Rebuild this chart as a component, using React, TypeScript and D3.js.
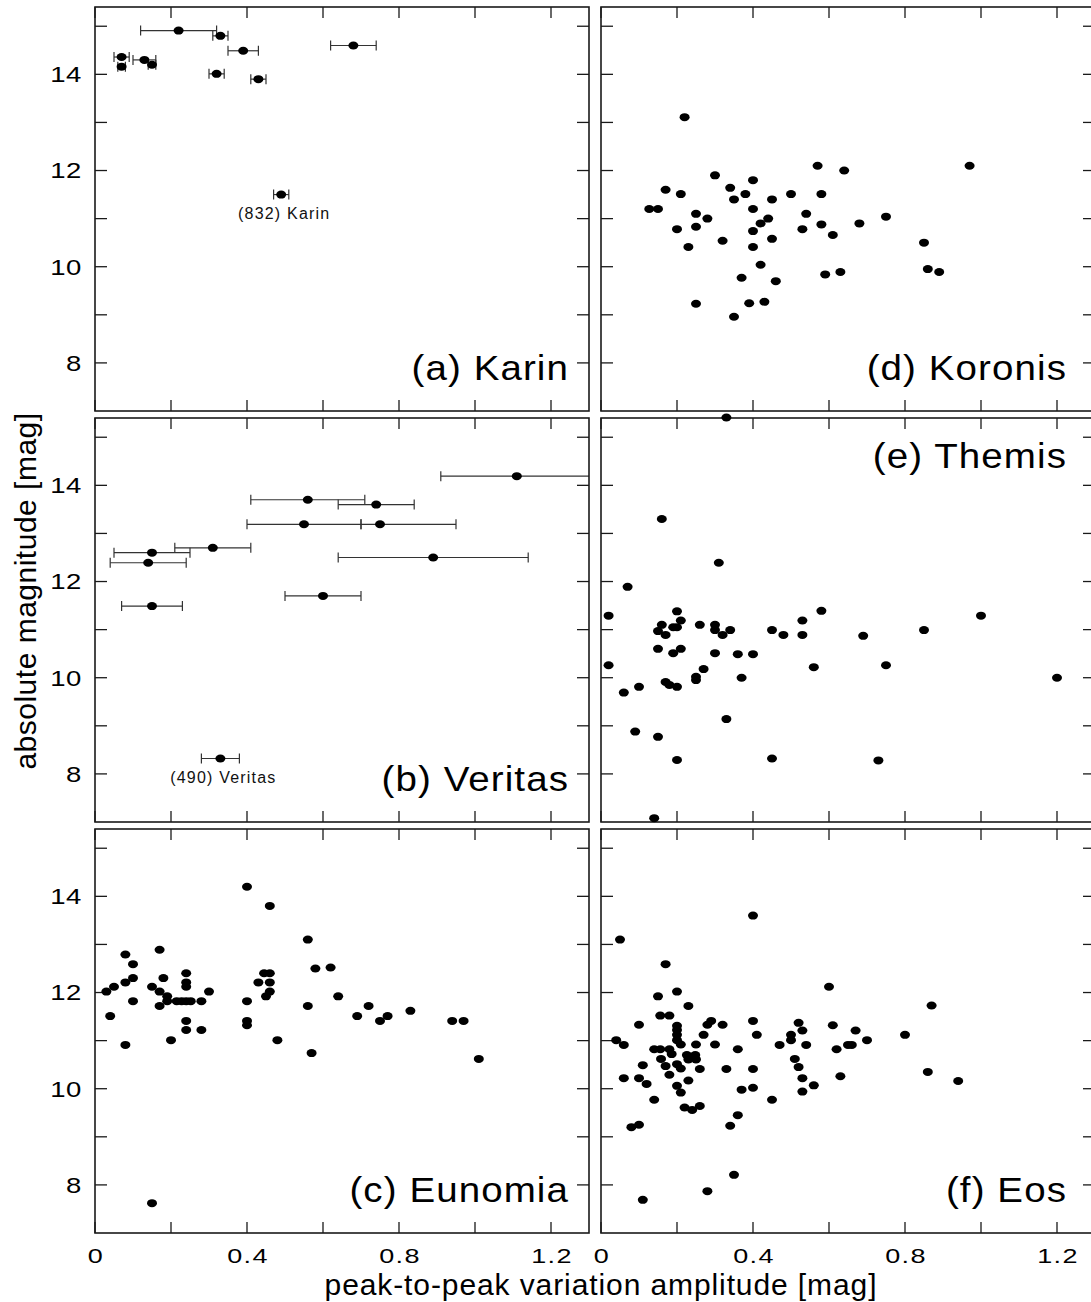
import React from "react";
import * as d3 from "d3";

const width = 1091;
const height = 1302;

// panel geometry
const PW = 494;
const PH = 404;
const colLeft = [95, 601];
const rowTop = [7, 418, 829];

const xTicks = [0, 0.2, 0.4, 0.6, 0.8, 1.0, 1.2];
const xLabels = [0, 0.4, 0.8, 1.2];
const yTicks = [8, 9, 10, 11, 12, 13, 14, 15];
const yLabels = [8, 10, 12, 14];

// [amplitude, H, err lo, err hi]
const karin = [
  [0.22, 14.91, 0.12, 0.32],
  [0.33, 14.8, 0.31, 0.35],
  [0.39, 14.49, 0.35, 0.43],
  [0.68, 14.6, 0.62, 0.74],
  [0.07, 14.36, 0.05, 0.09],
  [0.07, 14.16, 0.06, 0.08],
  [0.13, 14.3, 0.1, 0.16],
  [0.15, 14.2, 0.14, 0.16],
  [0.32, 14.01, 0.3, 0.34],
  [0.43, 13.9, 0.41, 0.45],
  [0.49, 11.5, 0.47, 0.51],
];

const veritas = [
  [1.11, 14.19, 0.91, 1.32],
  [0.56, 13.7, 0.41, 0.71],
  [0.74, 13.6, 0.64, 0.84],
  [0.55, 13.19, 0.4, 0.7],
  [0.75, 13.19, 0.7, 0.95],
  [0.31, 12.7, 0.21, 0.41],
  [0.15, 12.6, 0.05, 0.25],
  [0.14, 12.39, 0.04, 0.24],
  [0.89, 12.5, 0.64, 1.14],
  [0.6, 11.7, 0.5, 0.7],
  [0.15, 11.49, 0.07, 0.23],
  [0.33, 8.32, 0.28, 0.38],
];

const eunomia = [
  [0.4, 14.2], [0.46, 13.8], [0.56, 13.1], [0.17, 12.89], [0.08, 12.79], [0.1, 12.59],
  [0.58, 12.5], [0.62, 12.52], [0.24, 12.4], [0.445, 12.4], [0.46, 12.4], [0.1, 12.3],
  [0.18, 12.3], [0.08, 12.21], [0.24, 12.21], [0.24, 12.12], [0.43, 12.21], [0.46, 12.21],
  [0.05, 12.12], [0.15, 12.12], [0.45, 11.92], [0.46, 12.02], [0.03, 12.02], [0.17, 12.02],
  [0.19, 11.92], [0.3, 12.02], [0.1, 11.82], [0.19, 11.82], [0.215, 11.82], [0.228, 11.82],
  [0.24, 11.82], [0.252, 11.82], [0.28, 11.82], [0.4, 11.82], [0.17, 11.72], [0.56, 11.72],
  [0.64, 11.92], [0.72, 11.72], [0.04, 11.51], [0.69, 11.51], [0.77, 11.51], [0.75, 11.41],
  [0.83, 11.62], [0.94, 11.41], [0.97, 11.41], [0.24, 11.41], [0.4, 11.41], [0.4, 11.32],
  [0.24, 11.22], [0.28, 11.22], [0.2, 11.01], [0.48, 11.01], [0.08, 10.91], [0.57, 10.74],
  [1.01, 10.62], [0.15, 7.62],
];

const koronis = [
  [0.22, 13.11], [0.57, 12.1], [0.97, 12.1], [0.64, 12.0], [0.3, 11.9], [0.4, 11.8],
  [0.17, 11.6], [0.34, 11.64], [0.21, 11.51], [0.38, 11.51], [0.5, 11.51], [0.58, 11.51],
  [0.35, 11.4], [0.45, 11.4], [0.127, 11.2], [0.15, 11.2], [0.4, 11.2], [0.25, 11.1],
  [0.54, 11.1], [0.28, 11.0], [0.44, 11.0], [0.75, 11.04], [0.42, 10.9], [0.58, 10.88],
  [0.68, 10.9], [0.2, 10.78], [0.25, 10.83], [0.4, 10.74], [0.53, 10.78], [0.61, 10.66],
  [0.32, 10.54], [0.45, 10.58], [0.85, 10.5], [0.23, 10.41], [0.4, 10.41], [0.42, 10.04],
  [0.86, 9.95], [0.89, 9.89], [0.63, 9.89], [0.59, 9.84], [0.37, 9.77], [0.46, 9.7],
  [0.25, 9.23], [0.39, 9.24], [0.43, 9.27], [0.35, 8.96],
];

const themis = [
  [0.33, 15.41], [0.16, 13.3], [0.31, 12.39], [0.07, 11.89], [0.02, 11.29], [0.2, 11.38],
  [0.58, 11.39], [1.0, 11.29], [0.16, 11.1], [0.21, 11.19], [0.26, 11.1], [0.3, 11.1],
  [0.53, 11.19], [0.15, 10.97], [0.17, 10.89], [0.2, 11.05], [0.19, 11.05], [0.3, 10.99],
  [0.32, 10.89], [0.34, 10.99], [0.45, 10.99], [0.48, 10.89], [0.53, 10.89], [0.69, 10.87],
  [0.85, 10.99], [0.15, 10.6], [0.21, 10.6], [0.19, 10.51], [0.3, 10.51], [0.36, 10.49],
  [0.4, 10.49], [0.02, 10.26], [0.27, 10.18], [0.56, 10.22], [0.75, 10.26], [0.25, 10.02],
  [0.25, 9.95], [0.37, 10.0], [1.2, 10.0], [0.17, 9.91], [0.18, 9.85], [0.2, 9.81],
  [0.1, 9.81], [0.06, 9.69], [0.33, 9.14], [0.09, 8.88], [0.15, 8.77], [0.2, 8.29],
  [0.45, 8.32], [0.73, 8.28], [0.14, 7.08],
];

const eos = [
  [0.4, 13.6], [0.05, 13.1], [0.17, 12.59], [0.6, 12.12], [0.2, 12.02], [0.15, 11.92],
  [0.87, 11.73], [0.23, 11.72], [0.156, 11.52], [0.18, 11.52], [0.4, 11.41], [0.29, 11.41],
  [0.28, 11.33], [0.32, 11.33], [0.1, 11.33], [0.52, 11.37], [0.61, 11.32], [0.2, 11.31],
  [0.2, 11.22], [0.2, 11.12], [0.2, 11.01], [0.21, 10.92], [0.53, 11.21], [0.67, 11.21],
  [0.5, 11.12], [0.5, 11.01], [0.41, 11.12], [0.27, 11.12], [0.8, 11.12], [0.04, 11.01],
  [0.7, 11.01], [0.06, 10.91], [0.25, 10.92], [0.3, 10.92], [0.47, 10.91], [0.54, 10.91],
  [0.65, 10.91], [0.66, 10.91], [0.14, 10.82], [0.156, 10.82], [0.18, 10.82], [0.36, 10.82],
  [0.62, 10.82], [0.186, 10.72], [0.226, 10.7], [0.248, 10.7], [0.158, 10.62], [0.23, 10.61],
  [0.25, 10.61], [0.51, 10.62], [0.17, 10.47], [0.11, 10.49], [0.2, 10.51], [0.21, 10.42],
  [0.26, 10.41], [0.33, 10.41], [0.4, 10.41], [0.52, 10.45], [0.18, 10.29], [0.06, 10.22],
  [0.1, 10.22], [0.53, 10.22], [0.63, 10.26], [0.86, 10.35], [0.94, 10.16], [0.12, 10.1],
  [0.23, 10.17], [0.2, 10.06], [0.21, 9.92], [0.4, 10.02], [0.56, 10.07], [0.37, 9.98],
  [0.53, 9.94], [0.14, 9.77], [0.45, 9.77], [0.22, 9.61], [0.24, 9.56], [0.26, 9.64],
  [0.36, 9.45], [0.34, 9.23], [0.08, 9.2], [0.1, 9.25], [0.35, 8.21], [0.28, 7.87],
  [0.11, 7.69],
];

const panels = [
  { id: "a", name: "(a) Karin", data: karin, col: 0, row: 0, note: { idx: 10, text: "(832) Karin" } },
  { id: "b", name: "(b) Veritas", data: veritas, col: 0, row: 1, note: { idx: 11, text: "(490) Veritas" } },
  { id: "c", name: "(c) Eunomia", data: eunomia, col: 0, row: 2 },
  { id: "d", name: "(d) Koronis", data: koronis, col: 1, row: 0 },
  { id: "e", name: "(e) Themis", data: themis, col: 1, row: 1, top: true },
  { id: "f", name: "(f) Eos", data: eos, col: 1, row: 2 },
];

const font = "'Liberation Sans', Arial, Helvetica, sans-serif";
const ink = "#1a1a1a";

const x = d3.scaleLinear().domain([0, 1.3]).range([0, PW]);
const y = d3.scaleLinear().domain([7, 15.4]).range([PH, 0]);

// text that is a bit wider than the font draws it, like the original figure
const WideText = ({ x, y, sx, size, anchor = "start", ls = 0, dy = undefined, children }) => (
  <g transform={`translate(${x},${y}) scale(${sx},1)`}>
    <text
      textAnchor={anchor}
      dy={dy}
      fontSize={size}
      letterSpacing={ls}
      fontFamily={font}
      fill="#000"
    >
      {children}
    </text>
  </g>
);

const Panel = ({ p }) => {
  const left = colLeft[p.col];
  const top = rowTop[p.row];
  const labelX = p.col === 0 ? PW - 20 : PW - 28;
  const labelY = p.top ? 50 : PH - 31;
  return (
    <g transform={`translate(${left},${top})`}>
      <defs>
        <clipPath id={`clip-${p.id}`}>
          <rect x={0} y={0} width={PW} height={PH} />
        </clipPath>
      </defs>
      {/* error bars */}
      <g clipPath={`url(#clip-${p.id})`} stroke="#333" strokeWidth={1.2}>
        {p.data
          .filter((d) => d.length > 2)
          .map((d, i) => (
            <g key={i}>
              <line x1={x(d[2])} x2={x(d[3])} y1={y(d[1])} y2={y(d[1])} />
              <line x1={x(d[2])} x2={x(d[2])} y1={y(d[1]) - 5} y2={y(d[1]) + 5} />
              <line x1={x(d[3])} x2={x(d[3])} y1={y(d[1]) - 5} y2={y(d[1]) + 5} />
            </g>
          ))}
      </g>
      {/* ticks */}
      <g stroke={ink} strokeWidth={1.3}>
        {xTicks.map((t) => (
          <g key={"x" + t}>
            <line x1={x(t)} x2={x(t)} y1={0} y2={11} />
            <line x1={x(t)} x2={x(t)} y1={PH} y2={PH - 11} />
          </g>
        ))}
        {yTicks.map((t) => (
          <g key={"y" + t}>
            <line x1={0} x2={12} y1={y(t)} y2={y(t)} />
            <line x1={PW} x2={PW - 12} y1={y(t)} y2={y(t)} />
          </g>
        ))}
      </g>
      <rect x={0} y={0} width={PW} height={PH} fill="none" stroke={ink} strokeWidth={1.6} />
      {/* points */}
      {p.data.map((d, i) => (
        <ellipse key={i} cx={x(d[0])} cy={y(d[1])} rx={5} ry={4} fill="#000" />
      ))}
      {p.note && (
        <text
          x={x(p.data[p.note.idx][0]) + 3}
          y={y(p.data[p.note.idx][1]) + 24}
          textAnchor="middle"
          fontSize={16}
          letterSpacing={1.2}
          fontFamily={font}
          fill="#111"
        >
          {p.note.text}
        </text>
      )}
      <WideText x={labelX} y={labelY} sx={1.1} size={35} ls={1} anchor="end">
        {p.name}
      </WideText>
      {p.col === 0 &&
        yLabels.map((t) => (
          <WideText key={t} x={-13} y={y(t)} sx={1.25} size={22} ls={0.5} dy="0.36em" anchor="end">
            {t}
          </WideText>
        ))}
      {p.row === 2 &&
        xLabels.map((t) => (
          <WideText key={t} x={x(t) + 1} y={PH + 30} sx={1.35} size={20} ls={1} anchor="middle">
            {t}
          </WideText>
        ))}
    </g>
  );
};

export default function App() {
  return (
    <svg
      width={width}
      height={height}
      style={{ position: "absolute", left: 0, top: 0, background: "#fff" }}
    >
      <rect width={width} height={height} fill="#fff" />
      {panels.map((p) => (
        <Panel key={p.id} p={p} />
      ))}
      <text
        transform="translate(36,591) rotate(-90)"
        textAnchor="middle"
        fontSize={30}
        letterSpacing={0.5}
        fontFamily={font}
        fill="#000"
      >
        absolute magnitude [mag]
      </text>
      <text x={601} y={1295} textAnchor="middle" fontSize={30} letterSpacing={0.9} fontFamily={font} fill="#000">
        peak-to-peak variation amplitude [mag]
      </text>
    </svg>
  );
}
